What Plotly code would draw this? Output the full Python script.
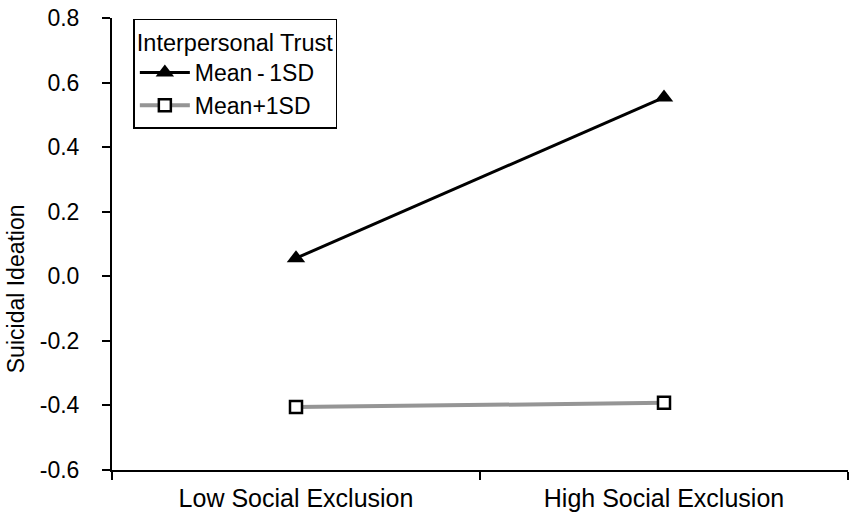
import plotly.graph_objects as go

categories = ["Low Social Exclusion", "High Social Exclusion"]
series_names = ["Mean\u2009-\u20091SD", "Mean+1SD"]
mean_minus_1sd = [0.056, 0.554]
mean_plus_1sd = [-0.405, -0.392]
y_ticks = [-0.6, -0.4, -0.2, 0.0, 0.2, 0.4, 0.6, 0.8]
y_tick_labels = ["-0.6", "-0.4", "-0.2", "0.0", "0.2", "0.4", "0.6", "0.8"]
y_title = "Suicidal Ideation"
legend_title = "Interpersonal Trust"

fig = go.Figure()
fig.add_trace(go.Scatter(
    x=categories, y=mean_minus_1sd, name=series_names[0], mode="lines+markers",
    line=dict(color="black", width=3),
    marker=dict(symbol="triangle-up", size=16, color="black"),
))
fig.add_trace(go.Scatter(
    x=categories, y=mean_plus_1sd, name=series_names[1], mode="lines+markers",
    line=dict(color="#959595", width=4),
    marker=dict(symbol="square", size=12, color="white", line=dict(color="black", width=2.5)),
))

font = "Liberation Sans, Arial, sans-serif"
fig.update_layout(
    width=851, height=523,
    margin=dict(l=112, r=3, t=18, b=53),
    paper_bgcolor="white", plot_bgcolor="white",
    font=dict(family=font, color="black", size=22),
    showlegend=True,
    legend=dict(
        x=0.029, y=0.998, xanchor="left", yanchor="top",
        bordercolor="black", borderwidth=1.5, bgcolor="white",
        title=dict(text=legend_title, font=dict(size=23.5, family=font)),
        font=dict(size=23, family=font),
        tracegroupgap=0, itemwidth=50,
    ),
    xaxis=dict(
        type="category", range=[-0.5, 1.5], tickson="boundaries",
        showline=True, linecolor="black", linewidth=2,
        ticks="outside", ticklen=8, tickwidth=2, tickcolor="black",
        ticklabelstandoff=5,
        showgrid=False, zeroline=False,
        tickfont=dict(size=25, family=font),
    ),
    yaxis=dict(
        range=[-0.6, 0.8], tickvals=y_ticks, ticktext=y_tick_labels,
        showline=True, linecolor="black", linewidth=2,
        ticks="outside", ticklen=8, tickwidth=2, tickcolor="black",
        ticklabelstandoff=18,
        showgrid=False, zeroline=False,
        tickfont=dict(size=23, family=font),
    ),
    annotations=[dict(
        text=y_title, textangle=-90, showarrow=False,
        xref="paper", yref="paper", x=-0.1304, y=0.4,
        xanchor="center", yanchor="middle",
        font=dict(size=23, family=font, color="black"),
    )],
)

fig.write_html(
    "out.html",
    config={"displayModeBar": False},
    post_script="document.body.style.margin='0px';document.body.style.overflow='hidden';",
)
